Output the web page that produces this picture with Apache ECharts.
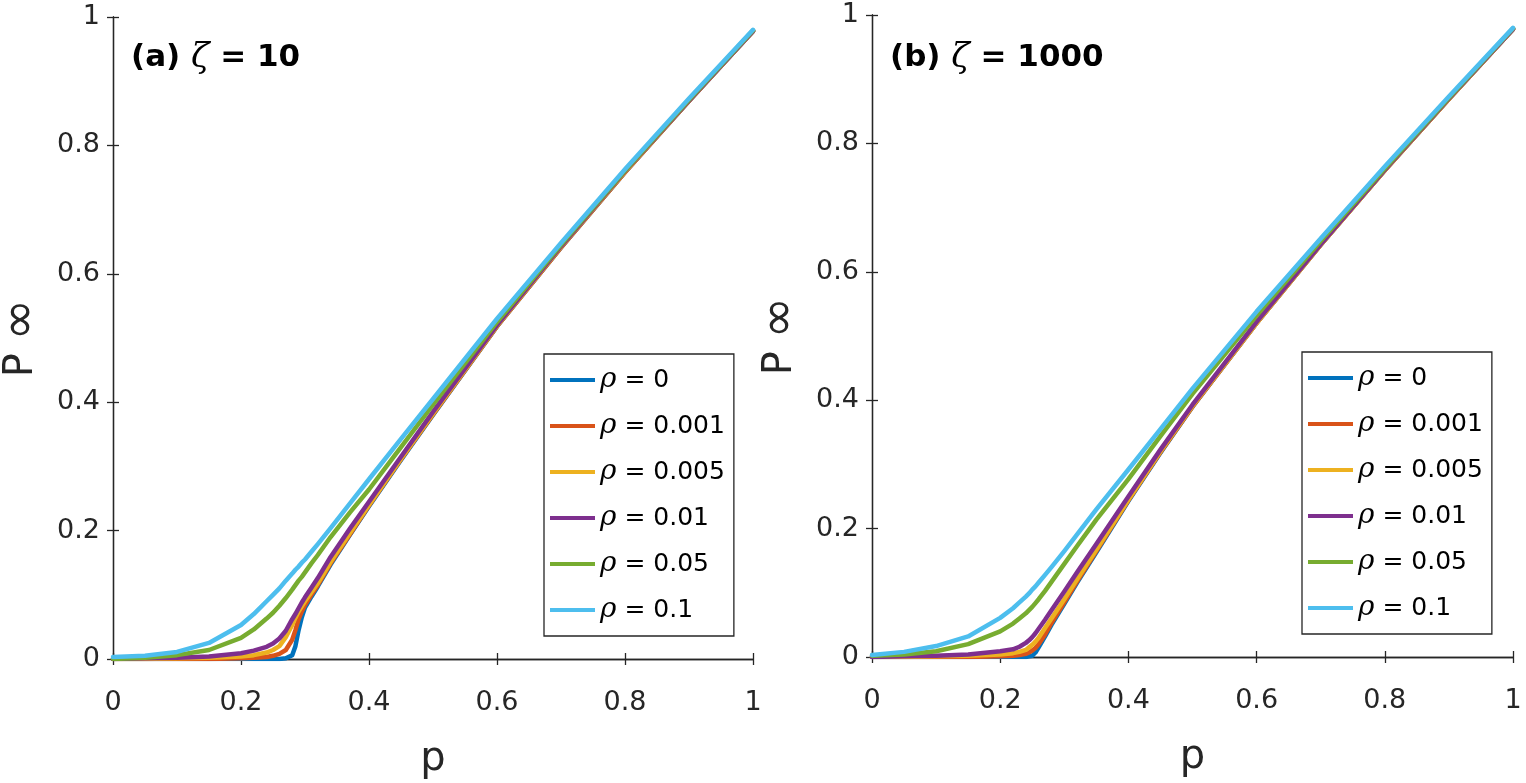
<!DOCTYPE html>
<html>
<head>
<meta charset="utf-8">
<script src="https://cdn.jsdelivr.net/npm/echarts@6/dist/echarts.min.js"></script>
<style>
  html, body { margin: 0; background: #fff; }
  #main { width: 1526px; height: 783px; }
</style>
</head>
<body>
<div id="main"></div>
<script>
// p values where the curves were read, panel (a) zeta = 10
var pA = [0, 0.05, 0.1, 0.15, 0.2, 0.22, 0.24, 0.25, 0.26, 0.27, 0.28, 0.285, 0.29, 0.295, 0.3, 0.31, 0.32, 0.34, 0.37, 0.4, 0.45, 0.5, 0.6, 0.7, 0.8, 0.9, 1];
var a_rho0    = [0, 0, 0, 0, 0, 0, 0, 0, 0, 0.001, 0.006, 0.02, 0.045, 0.065, 0.08, 0.097, 0.113, 0.147, 0.193, 0.238, 0.31, 0.38, 0.518, 0.641, 0.758, 0.869, 0.978];
var a_rho001  = [0, 0, 0, 0, 0.001, 0.002, 0.003, 0.005, 0.008, 0.014, 0.03, 0.045, 0.062, 0.074, 0.084, 0.1, 0.115, 0.149, 0.194, 0.239, 0.311, 0.381, 0.518, 0.641, 0.758, 0.869, 0.978];
var a_rho005  = [0, 0, 0.001, 0.002, 0.004, 0.006, 0.01, 0.014, 0.02, 0.034, 0.053, 0.064, 0.074, 0.082, 0.09, 0.104, 0.118, 0.151, 0.196, 0.24, 0.312, 0.382, 0.519, 0.642, 0.759, 0.87, 0.978];
var a_rho01   = [0, 0.001, 0.002, 0.004, 0.009, 0.013, 0.019, 0.024, 0.032, 0.044, 0.062, 0.07, 0.079, 0.088, 0.096, 0.111, 0.126, 0.159, 0.203, 0.245, 0.315, 0.385, 0.52, 0.643, 0.76, 0.87, 0.978];
var a_rho05   = [0, 0.002, 0.006, 0.014, 0.033, 0.046, 0.063, 0.072, 0.083, 0.095, 0.108, 0.115, 0.122, 0.128, 0.135, 0.149, 0.162, 0.19, 0.228, 0.264, 0.33, 0.396, 0.525, 0.645, 0.761, 0.871, 0.979];
var a_rho1    = [0.003, 0.005, 0.011, 0.025, 0.053, 0.07, 0.09, 0.1, 0.11, 0.122, 0.133, 0.139, 0.144, 0.15, 0.155, 0.167, 0.179, 0.204, 0.242, 0.28, 0.343, 0.405, 0.53, 0.648, 0.763, 0.873, 0.98];

// panel (b) zeta = 1000
var pB = [0, 0.05, 0.1, 0.15, 0.2, 0.22, 0.23, 0.24, 0.245, 0.25, 0.255, 0.26, 0.27, 0.28, 0.3, 0.32, 0.35, 0.4, 0.45, 0.5, 0.6, 0.7, 0.8, 0.9, 1];
var b_rho0    = [0, 0, 0, 0, 0, 0, 0, 0, 0.001, 0.002, 0.007, 0.015, 0.032, 0.05, 0.083, 0.116, 0.163, 0.243, 0.318, 0.39, 0.52, 0.642, 0.758, 0.869, 0.978];
var b_rho001  = [0, 0, 0, 0, 0.001, 0.002, 0.003, 0.005, 0.007, 0.01, 0.014, 0.02, 0.035, 0.053, 0.085, 0.118, 0.165, 0.244, 0.319, 0.39, 0.52, 0.642, 0.758, 0.869, 0.978];
var b_rho005  = [0, 0, 0.001, 0.002, 0.004, 0.006, 0.008, 0.011, 0.015, 0.019, 0.024, 0.03, 0.045, 0.06, 0.09, 0.121, 0.167, 0.245, 0.32, 0.391, 0.52, 0.642, 0.758, 0.869, 0.978];
var b_rho01   = [0, 0.001, 0.002, 0.004, 0.009, 0.012, 0.016, 0.022, 0.026, 0.031, 0.037, 0.044, 0.058, 0.073, 0.102, 0.132, 0.176, 0.25, 0.323, 0.393, 0.522, 0.643, 0.759, 0.87, 0.978];
var b_rho05   = [0.002, 0.004, 0.009, 0.02, 0.04, 0.052, 0.06, 0.068, 0.073, 0.078, 0.084, 0.09, 0.103, 0.117, 0.145, 0.173, 0.214, 0.277, 0.344, 0.41, 0.532, 0.648, 0.761, 0.871, 0.979];
var b_rho1    = [0.003, 0.008, 0.017, 0.032, 0.061, 0.076, 0.085, 0.094, 0.099, 0.105, 0.11, 0.116, 0.128, 0.14, 0.165, 0.191, 0.23, 0.292, 0.355, 0.418, 0.538, 0.652, 0.764, 0.873, 0.98];

var rhoNames = ['ρ = 0', 'ρ = 0.001', 'ρ = 0.005', 'ρ = 0.01', 'ρ = 0.05', 'ρ = 0.1'];
var xTicks = [0, 0.2, 0.4, 0.6, 0.8, 1];
var yTicks = [0, 0.2, 0.4, 0.6, 0.8, 1];
var colors = ['#0072BD', '#D95319', '#EDB120', '#7E2F8E', '#77AC30', '#4DBEEE'];

var valsA = [a_rho0, a_rho001, a_rho005, a_rho01, a_rho05, a_rho1];
var valsB = [b_rho0, b_rho001, b_rho005, b_rho01, b_rho05, b_rho1];

var ink = '#262626';
var font = 'DejaVu Sans';

function pairs(ps, vs) {
  return ps.map(function (p, i) { return [p, vs[i]]; });
}

// MATLAB style axes: ticks inside, mirrored on top/right
function xAx(grid, pos, labels) {
  return {
    type: 'value', gridIndex: grid, position: pos, min: xTicks[0], max: xTicks[xTicks.length - 1], interval: 0.2,
    name: labels ? 'p' : '', nameLocation: 'middle', nameGap: 81,
    nameTextStyle: { fontFamily: font, fontSize: 40, color: ink },
    axisLine: { show: true, lineStyle: { color: ink, width: 1.3 } },
    axisTick: { show: true, inside: true, length: 6, lineStyle: { color: ink, width: 1.3 } },
    axisLabel: { show: labels, margin: 30, fontFamily: font, fontSize: 27, color: ink },
    splitLine: { show: false }
  };
}
function yAx(grid, pos, labels) {
  return {
    type: 'value', gridIndex: grid, position: pos, min: yTicks[0], max: yTicks[yTicks.length - 1], interval: 0.2,
    name: labels ? '{p|P }{i|∞}' : '', nameLocation: 'middle', nameGap: 66,
    nameTextStyle: {
      fontFamily: font, fontSize: 40, color: ink,
      rich: {
        p: { fontFamily: font, fontSize: 40, color: ink },
        i: { fontFamily: font, fontSize: 50, color: ink }
      }
    },
    axisLine: { show: true, lineStyle: { color: ink, width: 1.3 } },
    axisTick: { show: true, inside: true, length: 6, lineStyle: { color: ink, width: 1.3 } },
    axisLabel: { show: labels, margin: 13, fontFamily: font, fontSize: 27, color: ink },
    splitLine: { show: false }
  };
}

function legendAt(left, top) {
  return {
    orient: 'vertical', left: left, top: top,
    data: rhoNames,
    icon: 'rect', itemWidth: 45, itemHeight: 4, itemGap: 16,
    padding: [11, 9, 11, 6],
    borderColor: ink, borderWidth: 1.3, backgroundColor: '#fff',
    selectedMode: false,
    formatter: function (name) { return '{r|ρ}' + name.slice(1); },
    textStyle: {
      fontFamily: font, fontSize: 25, color: '#000', lineHeight: 30,
      rich: { r: { fontFamily: 'DejaVu Serif', fontStyle: 'italic', fontSize: 28, color: '#000' } }
    }
  };
}

function titleAt(left, top, label, zeta) {
  return {
    text: '{t|' + label + ' }{z|ζ}{n| = ' + zeta + '}',
    left: left, top: top,
    textStyle: {
      fontWeight: 'normal',
      rich: {
        t: { fontFamily: font, fontSize: 31, fontWeight: 'bold', color: '#000' },
        z: { fontFamily: 'DejaVu Serif', fontStyle: 'italic', fontWeight: 'normal', fontSize: 34, color: '#000' },
        n: { fontFamily: font, fontSize: 31, fontWeight: 'bold', color: '#000' }
      }
    }
  };
}

var series = [];
valsA.forEach(function (v, i) {
  series.push({
    name: rhoNames[i], type: 'line', xAxisIndex: 0, yAxisIndex: 0,
    data: pairs(pA, v), symbol: 'none', smooth: false,
    lineStyle: { width: 4.5, color: colors[i], join: 'round', cap: 'round' }, itemStyle: { color: colors[i] }
  });
});
valsB.forEach(function (v, i) {
  series.push({
    name: rhoNames[i], type: 'line', xAxisIndex: 2, yAxisIndex: 2,
    data: pairs(pB, v), symbol: 'none', smooth: false,
    lineStyle: { width: 4.5, color: colors[i], join: 'round', cap: 'round' }, itemStyle: { color: colors[i] }
  });
});

var chart = echarts.init(document.getElementById('main'));
chart.setOption({
  backgroundColor: '#fff',
  animation: false,
  title: [titleAt(126, 36, '(a)', '10'), titleAt(885, 36, '(b)', '1000')],
  legend: [legendAt(544, 354), legendAt(1302, 352)],
  grid: [
    { left: 113, top: 17, width: 640, height: 642, outerBoundsMode: 'none', containLabel: false },
    { left: 872, top: 15, width: 641, height: 642, outerBoundsMode: 'none', containLabel: false }
  ],
  xAxis: [xAx(0, 'bottom', true), xAx(0, 'top', false), xAx(1, 'bottom', true), xAx(1, 'top', false)],
  yAxis: [yAx(0, 'left', true), yAx(0, 'right', false), yAx(1, 'left', true), yAx(1, 'right', false)],
  series: series
});
</script>
</body>
</html>
